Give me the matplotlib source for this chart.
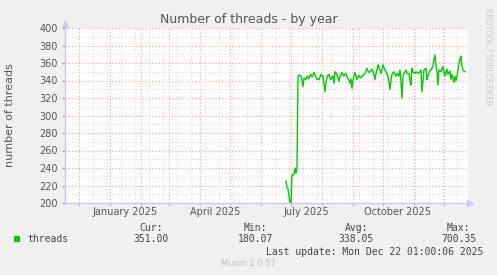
import matplotlib
matplotlib.use('Agg')
import matplotlib.pyplot as plt
import pandas as pd
import numpy as np

# ---------- data ----------
# daily averages (first day 2025-06-26)
first_day = '2025-06-26'
threads = [
    225, 218, 216, 208, 201, 200, 232, 232, 233, 240, 234, 240,
    345, 346, 346, 345, 340, 333, 343, 342, 341, 345, 344, 342,
    346, 347, 344, 346, 349, 347, 344, 341, 342, 341, 344, 347,
    346, 345, 336, 327, 338, 343, 346, 347, 343, 341, 344, 345,
    337, 350, 349, 347, 343, 339, 345, 346, 349, 347, 345, 347,
    348, 345, 342, 340, 337, 342, 331, 340, 345, 349, 345, 341,
    343, 346, 344, 343, 344, 346, 347, 348, 351, 354, 351, 349,
    350, 351, 353, 350, 347, 341, 348, 352, 358, 355, 352, 348,
    352, 358, 355, 352, 350, 348, 345, 338, 330, 340, 347, 349,
    350, 347, 345, 348, 347, 345, 352, 339, 320, 345, 348, 350,
    352, 348, 348, 348, 341, 335, 354, 350, 349, 348, 350, 349,
    348, 349, 350, 352, 327, 340, 352, 353, 354, 341, 345, 348,
    351, 352, 354, 357, 364, 369, 358, 350, 335, 352, 351, 350,
    353, 356, 350, 345, 350, 353, 347, 349, 351, 341, 347, 343,
    338, 345, 340, 345, 352, 360, 364, 368, 356, 352, 351, 350,
]
dates = pd.date_range(first_day, periods=len(threads), freq='D')

month_labels = ['January 2025', 'April 2025', 'July 2025', 'October 2025']
label_dates = ['2025-01-16', '2025-04-16', '2025-07-16', '2025-10-16']

legend_heads = ['Cur:', 'Min:', 'Avg:', 'Max:']
legend_vals = ['351.00', '180.07', '338.05', '700.35']

# ---------- figure ----------
W, H = 497, 275
fig = plt.figure(figsize=(W / 100, H / 100), dpi=100, facecolor='#F0F0F0')

def fx(x):
    return x / W

def fy(y):
    return 1 - y / H

ax = fig.add_axes([fx(65), fy(203), (468 - 65) / W, (203 - 28) / H])
ax.set_facecolor('white')

x_start = pd.Timestamp('2024-11-17 01:00')
x_end = pd.Timestamp('2025-12-25 01:00')
ax.set_xlim(x_start, x_end)
ax.set_ylim(200, 400)

# grid
major_x = pd.date_range('2024-12-01', '2025-12-01', freq='MS')
minor_x = pd.date_range('2024-11-17', '2025-12-24', freq='2W-SUN')
ax.set_xticks(major_x)
ax.set_xticks(minor_x, minor=True)
ax.set_xticklabels([])
ax.set_yticks(np.arange(200, 401, 20))
ax.set_yticks(np.arange(200, 401, 10), minor=True)

dots = (0, (1, 2))
ax.grid(which='minor', color='#D8D8D8', linestyle=dots, linewidth=0.8)
ax.grid(which='major', color='#F2A0A0', linestyle=dots, linewidth=0.8)
ax.set_axisbelow(True)

for s in ax.spines.values():
    s.set_visible(False)

ax.tick_params(axis='y', which='major', length=2, color='#999999',
               labelsize=7, labelcolor='#555555', pad=3)
ax.tick_params(axis='y', which='minor', length=0)
ax.tick_params(axis='x', which='major', length=2, color='#F2A0A0')
ax.tick_params(axis='x', which='minor', length=0)

# series
ax.plot(dates, threads, color='#00CC00', linewidth=1, zorder=3)

# axis lines with arrows
axis_col = '#C8C8F8'
ax.plot([0, 1.005], [0, 0], transform=ax.transAxes, color=axis_col,
        lw=1, clip_on=False, zorder=4)
ax.plot([1.005], [0], transform=ax.transAxes, marker='>', ms=4,
        color=axis_col, clip_on=False, zorder=4)
ax.plot([0, 0], [0, 1.025], transform=ax.transAxes, color=axis_col,
        lw=1, clip_on=False, zorder=4)
ax.plot([0], [1.025], transform=ax.transAxes, marker='^', ms=4,
        color=axis_col, clip_on=False, zorder=4)

# month labels
for lab, d in zip(month_labels, label_dates):
    ax.text(pd.Timestamp(d), -0.052, lab, transform=ax.get_xaxis_transform(),
            ha='center', va='center', fontsize=7, color='#555555')

# texts
fig.text(fx(249), fy(19), 'Number of threads - by year', ha='center',
         va='center', fontsize=9, color='#555555')
fig.text(fx(10), fy(115), 'number of threads', rotation=90, ha='center',
         va='center', fontsize=8, color='#555555')
fig.text(fx(488), fy(57), 'RRDTOOL / TOBI OETIKER', rotation=-90,
         ha='center', va='center', fontsize=5.5, color='#C8C8C8')

# legend
mono = 'DejaVu Sans Mono'
fig.patches.append(plt.Rectangle((fx(14), fy(242)), 6 / W, 6 / H,
                                 transform=fig.transFigure,
                                 facecolor='#00CC00', edgecolor='none'))
fig.text(fx(27), fy(239), 'threads', ha='left', va='center',
         family=mono, fontsize=7, color='#444444')
head_x = [163, 267, 368, 470]
val_x = [169, 273, 374, 477]
for h, hx in zip(legend_heads, head_x):
    fig.text(fx(hx), fy(228), h, ha='right', va='center',
             family=mono, fontsize=7, color='#444444')
for v, vx in zip(legend_vals, val_x):
    fig.text(fx(vx), fy(239), v, ha='right', va='center',
             family=mono, fontsize=7, color='#444444')
fig.text(fx(483), fy(252), 'Last update: Mon Dec 22 01:00:06 2025',
         ha='right', va='center', family=mono, fontsize=7, color='#444444')
fig.text(fx(248), fy(264), 'Munin 2.0.57', ha='center', va='center',
         fontsize=6, color='#C0C0C0')

fig.savefig('out.png', dpi=100, facecolor=fig.get_facecolor())
